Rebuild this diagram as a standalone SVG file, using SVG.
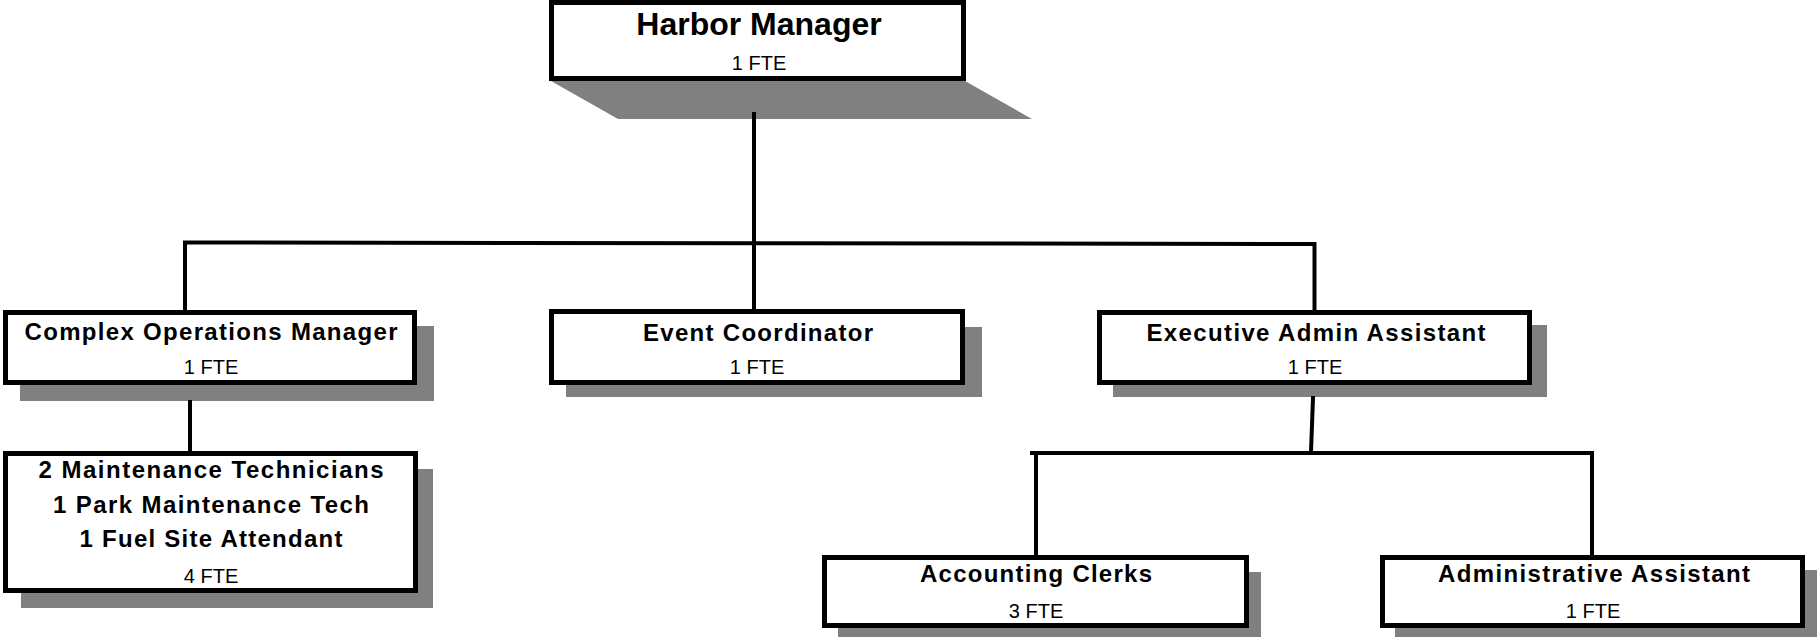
<svg xmlns="http://www.w3.org/2000/svg" width="1818" height="637" viewBox="0 0 1818 637">
<style>
  .shadow { fill: #808080; }
  .box { fill: #ffffff; stroke: #000000; stroke-width: 5; }
  .title { font-family: "Liberation Sans", Arial, sans-serif; font-weight: bold; font-size: 24px; fill: #000; text-anchor: middle; }
  .big { font-size: 32px; }
  .fte { font-family: "Liberation Sans", Arial, sans-serif; font-size: 20px; fill: #000; text-anchor: middle; }
  .conn line { stroke: #000000; stroke-width: 4; stroke-linecap: square; }
</style>
<rect width="1818" height="637" fill="#ffffff"/>

<g id="harbor-manager">
  <polygon class="shadow" points="551,81 965,81 1032,119 618,119"/>
  <rect class="box" x="551.5" y="2.5" width="412" height="76"/>
  <text class="title big" x="759" y="35">Harbor Manager</text>
  <text class="fte" x="759" y="70">1 FTE</text>
</g>

<g id="complex-operations-manager">
  <rect class="shadow" x="20" y="326" width="414" height="75"/>
  <rect class="box" x="5.5" y="312.5" width="409" height="70"/>
  <text class="title" x="211" y="340" textLength="373" lengthAdjust="spacing">Complex Operations Manager</text>
  <text class="fte" x="211" y="374">1 FTE</text>
</g>

<g id="event-coordinator">
  <rect class="shadow" x="566" y="327" width="416" height="70"/>
  <rect class="box" x="551.5" y="311.5" width="411" height="71"/>
  <text class="title" x="758" y="341" textLength="230" lengthAdjust="spacing">Event Coordinator</text>
  <text class="fte" x="757" y="374">1 FTE</text>
</g>

<g id="executive-admin-assistant">
  <rect class="shadow" x="1113" y="325" width="434" height="72"/>
  <rect class="box" x="1099.5" y="312.5" width="430" height="70"/>
  <text class="title" x="1316" y="341" textLength="339" lengthAdjust="spacing">Executive Admin Assistant</text>
  <text class="fte" x="1315" y="374">1 FTE</text>
</g>

<g id="maintenance-staff">
  <rect class="shadow" x="21" y="469" width="412" height="139"/>
  <rect class="box" x="5.5" y="453.5" width="410" height="137"/>
  <text class="title" x="211" y="478" textLength="345" lengthAdjust="spacing">2 Maintenance Technicians</text>
  <text class="title" x="211" y="513" textLength="316" lengthAdjust="spacing">1 Park Maintenance Tech</text>
  <text class="title" x="211" y="547" textLength="263" lengthAdjust="spacing">1 Fuel Site Attendant</text>
  <text class="fte" x="211" y="583">4 FTE</text>
</g>

<g id="accounting-clerks">
  <rect class="shadow" x="838" y="572" width="423" height="65"/>
  <rect class="box" x="824.5" y="557.5" width="422" height="68"/>
  <text class="title" x="1036" y="582" textLength="232" lengthAdjust="spacing">Accounting Clerks</text>
  <text class="fte" x="1036" y="618">3 FTE</text>
</g>

<g id="administrative-assistant">
  <rect class="shadow" x="1395" y="570" width="422" height="67"/>
  <rect class="box" x="1382.5" y="557.5" width="420" height="68"/>
  <text class="title" x="1594" y="582" textLength="312" lengthAdjust="spacing">Administrative Assistant</text>
  <text class="fte" x="1593" y="618">1 FTE</text>
</g>

<g id="connectors" class="conn">
  <line x1="754" y1="114" x2="754" y2="308"/>
  <line x1="185" y1="242.5" x2="1314" y2="244"/>
  <line x1="185" y1="243" x2="185" y2="309"/>
  <line x1="1314.5" y1="244" x2="1314.5" y2="309"/>
  <line x1="190" y1="402" x2="190" y2="450"/>
  <line x1="1313" y1="398" x2="1311" y2="452"/>
  <line x1="1032" y1="453" x2="1592" y2="453"/>
  <line x1="1036" y1="453" x2="1036" y2="554"/>
  <line x1="1592" y1="453" x2="1592" y2="554"/>
</g>
</svg>
